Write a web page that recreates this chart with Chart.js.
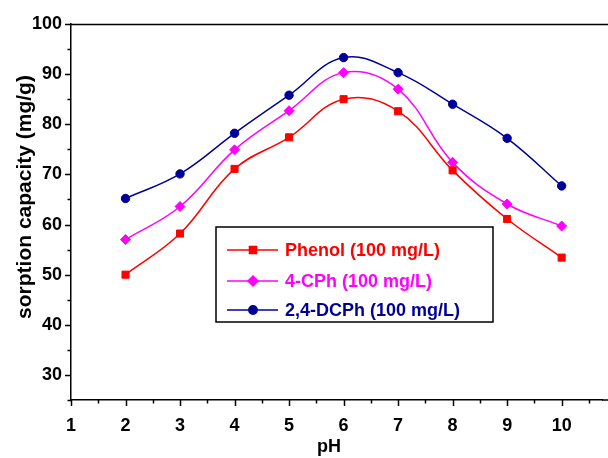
<!DOCTYPE html>
<html>
<head>
<meta charset="utf-8">
<script src="https://cdn.jsdelivr.net/npm/chart.js@4.4.0/dist/chart.umd.min.js"></script>
<style>
  html, body { margin: 0; padding: 0; background: #fff; }
  #wrap { width: 608px; height: 458px; }
</style>
</head>
<body>
<div id="wrap"><canvas id="chart" width="608" height="458"></canvas></div>
<script>
const phValues = [2, 3, 4, 5, 6, 7, 8, 9, 10];
const phenol = [50.0, 58.2, 71.1, 77.4, 85.0, 82.6, 70.8, 61.1, 53.4];
const cph = [57.0, 63.6, 74.9, 82.7, 90.3, 87.0, 72.4, 64.1, 59.7];
const dcph = [65.2, 70.1, 78.2, 85.8, 93.3, 90.3, 84.0, 77.2, 67.7];
const seriesLabels = ['Phenol (100 mg/L)', '4-CPh (100 mg/L)', '2,4-DCPh (100 mg/L)'];
const xTicks = [1, 2, 3, 4, 5, 6, 7, 8, 9, 10];
const yTicks = [30, 40, 50, 60, 70, 80, 90, 100];
const xTitle = 'pH';
const yTitle = 'sorption capacity (mg/g)';

const FONT = "'Liberation Sans', Arial, sans-serif";

function pts(ys) {
  return ys.map((y, i) => ({ x: phValues[i], y: y }));
}

// ticks (major + minor), frame top line, axis titles
const axisDecor = {
  id: 'axisDecor',
  afterDraw(chart) {
    const ctx = chart.ctx;
    const xs = chart.scales.x, ys = chart.scales.y;
    const a = chart.chartArea;
    ctx.save();
    ctx.strokeStyle = '#000';
    ctx.lineWidth = 1.5;
    ctx.beginPath();
    for (let v = 25; v <= 100; v += 5) {
      const p = Math.round(ys.getPixelForValue(v)) + 0.5;
      const len = v % 10 === 0 ? 6 : 3.5;
      ctx.moveTo(a.left - len, p);
      ctx.lineTo(a.left, p);
    }
    for (let v = 1; v <= 10.5; v += 0.5) {
      const p = Math.round(xs.getPixelForValue(v)) + 0.5;
      const len = v % 1 === 0 ? 6 : 3.5;
      ctx.moveTo(p, a.bottom);
      ctx.lineTo(p, a.bottom + len);
    }
    ctx.stroke();
    ctx.beginPath();
    ctx.moveTo(a.left, a.top + 0.5);
    ctx.lineTo(608, a.top + 0.5);
    ctx.moveTo(a.right, a.bottom);
    ctx.lineTo(608, a.bottom);
    ctx.stroke();

    ctx.fillStyle = '#000';
    ctx.font = 'bold 18px ' + FONT;
    ctx.textAlign = 'center';
    ctx.textBaseline = 'alphabetic';
    ctx.fillText(xTitle, 329, 452);
    ctx.translate(25, 197);
    ctx.rotate(-Math.PI / 2);
    ctx.font = 'bold 21px ' + FONT;
    ctx.textBaseline = 'middle';
    ctx.fillText(yTitle, 0, 0);
    ctx.restore();
  }
};

// boxed legend inside the plot
const boxLegend = {
  id: 'boxLegend',
  afterDatasetsDraw(chart) {
    const ctx = chart.ctx;
    ctx.save();
    ctx.fillStyle = '#fff';
    ctx.fillRect(216, 227, 277, 95);
    ctx.strokeStyle = '#000';
    ctx.lineWidth = 1.5;
    ctx.strokeRect(216, 227, 277, 95);
    const rows = [250, 281, 310];
    chart.data.datasets.forEach((ds, i) => {
      const y = rows[i];
      ctx.strokeStyle = ds.borderColor;
      ctx.lineWidth = 1.5;
      ctx.beginPath();
      ctx.moveTo(227, y);
      ctx.lineTo(278, y);
      ctx.stroke();
      ctx.fillStyle = ds.backgroundColor;
      ctx.strokeStyle = ds.borderColor;
      Chart.helpers.drawPoint(ctx, { pointStyle: ds.pointStyle, radius: ds.pointRadius, borderWidth: 1 }, 253, y);
      ctx.fillStyle = ds.borderColor;
      ctx.font = 'bold 18px ' + FONT;
      ctx.textBaseline = 'middle';
      ctx.textAlign = 'left';
      ctx.fillText(ds.label, 285, y + 1);
    });
    ctx.restore();
  }
};

new Chart(document.getElementById('chart'), {
  type: 'line',
  data: {
    datasets: [
      { label: seriesLabels[0], data: pts(phenol), borderColor: '#ff0000', backgroundColor: '#ff0000', pointStyle: 'rect', pointRadius: 5 },
      { label: seriesLabels[1], data: pts(cph), borderColor: '#ff00ff', backgroundColor: '#ff00ff', pointStyle: 'rectRot', pointRadius: 5 },
      { label: seriesLabels[2], data: pts(dcph), borderColor: '#000099', backgroundColor: '#000099', pointStyle: 'circle', pointRadius: 4.2 }
    ].map(d => Object.assign(d, { borderWidth: 1.5, tension: 0.4, pointBorderWidth: 1, fill: false }))
  },
  options: {
    responsive: false,
    animation: false,
    layout: { padding: { top: 24, right: 0, left: 0, bottom: 0 } },
    plugins: { legend: { display: false }, tooltip: { enabled: false } },
    scales: {
      x: {
        type: 'linear',
        min: 1,
        max: 10.74,
        afterBuildTicks: s => { s.ticks = xTicks.map(v => ({ value: v })); },
        afterFit: s => { s.height = 58; },
        grid: { display: false, drawTicks: false },
        border: { color: '#000', width: 1.5 },
        ticks: { color: '#000', padding: 15, font: { family: FONT, size: 18, weight: 'bold' } }
      },
      y: {
        min: 25,
        max: 100,
        afterBuildTicks: s => { s.ticks = yTicks.map(v => ({ value: v })); },
        afterFit: s => { s.width = 71; },
        grid: { display: false, drawTicks: false },
        border: { color: '#000', width: 1.5 },
        ticks: { color: '#000', padding: 9, font: { family: FONT, size: 18, weight: 'bold' } }
      }
    }
  },
  plugins: [axisDecor, boxLegend]
});
</script>
</body>
</html>
